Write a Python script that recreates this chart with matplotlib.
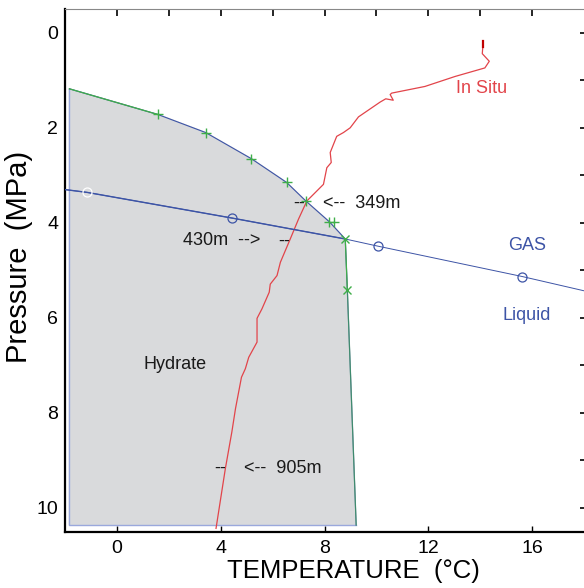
import matplotlib
matplotlib.use('Agg')
from matplotlib import pyplot as plt

plt.rcParams['font.family'] = ['Liberation Sans', 'DejaVu Sans']

# hydrate stability boundary (temperature in C, pressure in MPa)
hyd_T = [-1.83, 1.58, 3.42, 5.18, 6.54, 7.28, 8.19, 8.80, 8.88, 9.22]
hyd_P = [1.18, 1.72, 2.10, 2.65, 3.15, 3.54, 3.98, 4.34, 5.41, 10.36]
hyd_bottom = 10.36

# measured points on the boundary
plus_T = [1.58, 3.42, 5.18, 6.54, 7.28, 8.19, 8.35]
plus_P = [1.72, 2.10, 2.65, 3.15, 3.54, 3.98, 3.98]
cross_T = [8.80, 8.88]
cross_P = [4.34, 5.41]

# gas / liquid boundary
gas_T = [-2.0, -1.14, 4.44, 8.80, 10.05, 15.62, 18.0]
gas_P = [3.30, 3.36, 3.90, 4.34, 4.49, 5.13, 5.43]
circ_T = [4.44, 10.05, 15.62]
circ_P = [3.90, 4.49, 5.13]

# in situ temperature profile
situ_T = [14.10, 14.10, 14.08, 14.35, 14.18, 13.03, 11.87, 10.59, 10.53, 10.65, 10.36,
          10.14, 9.31, 8.99, 8.73, 8.47, 8.22, 8.26, 8.09, 7.96, 7.32, 7.00,
          6.68, 6.30, 6.17, 5.91, 5.87, 5.59, 5.40, 5.40, 5.08, 4.95, 4.80,
          4.57, 4.43, 4.18, 3.82]
situ_P = [0.18, 0.30, 0.44, 0.60, 0.74, 0.92, 1.13, 1.27, 1.30, 1.42, 1.39,
          1.46, 1.77, 2.00, 2.10, 2.18, 2.52, 2.73, 2.84, 3.19, 3.54, 3.92,
          4.34, 4.83, 5.11, 5.29, 5.46, 5.81, 6.01, 6.51, 6.83, 7.07, 7.25,
          7.91, 8.40, 9.17, 10.43]

x_ticks = [0, 4, 8, 12, 16]
y_ticks = [0, 2, 4, 6, 8, 10]

BLUE = '#3d54a6'
GREEN = '#3fae49'
RED = '#e2444a'
TXT = '#1a1a1a'

fig = plt.figure(figsize=(5.84, 5.88), dpi=100)
ax = fig.add_axes([65 / 584, 56.3 / 588, 519 / 584, 522.7 / 588])

# shaded hydrate field
fill_T = [hyd_T[0]] + hyd_T + [hyd_T[0]]
fill_P = [hyd_bottom] + hyd_P + [hyd_bottom]
ax.fill(fill_T, fill_P, color='#d9dadc', zorder=1)
ax.plot([hyd_T[0], hyd_T[0], hyd_T[-1]], [hyd_P[0], hyd_bottom, hyd_bottom],
        color='#9aa8dc', lw=1.0, zorder=2)

ax.plot(situ_T, situ_P, color=RED, lw=0.9, zorder=3)
ax.plot(situ_T[:2], situ_P[:2], color='#c00000', lw=1.6, zorder=3)

ax.plot(hyd_T, hyd_P, color=BLUE, lw=0.8, zorder=4)
ax.plot(hyd_T[:2], hyd_P[:2], color=GREEN, lw=0.9, zorder=4)
ax.plot(hyd_T[7:9], hyd_P[7:9], color=GREEN, lw=0.9, zorder=4)
ax.plot(hyd_T[8:], hyd_P[8:], color=GREEN, lw=0.9, alpha=0.6, zorder=4)

ax.plot(gas_T, gas_P, color=BLUE, lw=0.7, zorder=4)
ax.plot(gas_T[:4], gas_P[:4], color=BLUE, lw=1.0, zorder=4)
ax.plot(circ_T, circ_P, 'o', mfc='none', mec=BLUE, ms=6.5, mew=0.9, zorder=5)
ax.plot(gas_T[1], gas_P[1], 'o', mfc='none', mec='white', ms=6.5, mew=0.9, zorder=5)

ax.plot(plus_T, plus_P, '+', color=GREEN, ms=7, mew=1.0, zorder=5)
ax.plot(cross_T, cross_P, 'x', color=GREEN, ms=6, mew=1.0, zorder=5)

# labels
ax.text(14.04, 1.18, 'In Situ', color=RED, fontsize=13, ha='center', va='center')
ax.text(15.81, 4.48, 'GAS', color=BLUE, fontsize=13, ha='center', va='center')
ax.text(15.81, 5.95, 'Liquid', color=BLUE, fontsize=13, ha='center', va='center')
ax.text(2.25, 6.99, 'Hydrate', color=TXT, fontsize=13, ha='center', va='center')

ax.text(7.04, 3.59, '--', color=TXT, fontsize=13, ha='center', va='center')
ax.text(7.96, 3.59, '<--  349m', color=TXT, fontsize=13, ha='left', va='center')
ax.text(5.54, 4.38, '430m  -->', color=TXT, fontsize=13, ha='right', va='center')
ax.text(6.43, 4.38, '--', color=TXT, fontsize=13, ha='center', va='center')
ax.text(3.99, 9.17, '--', color=TXT, fontsize=13, ha='center', va='center')
ax.text(4.88, 9.17, '<--  905m', color=TXT, fontsize=13, ha='left', va='center')

ax.set_xlim(-2, 18)
ax.set_ylim(10.5, -0.5)
ax.set_xticks(x_ticks)
ax.set_yticks(y_ticks)
ax.tick_params(axis='x', direction='in', length=4, width=1, labelsize=14, pad=6)
ax.tick_params(axis='y', length=0, labelsize=14, pad=5)

ax.spines['right'].set_visible(False)
ax.spines['top'].set_color('#888888')
ax.spines['top'].set_linewidth(0.8)
ax.spines['left'].set_linewidth(1.6)
ax.spines['bottom'].set_linewidth(1.6)

top = ax.secondary_xaxis('top')
top.set_xticks(range(0, 18, 2))
top.tick_params(direction='in', length=5, width=1.2, labeltop=False)
top.spines['top'].set_visible(False)

right = ax.secondary_yaxis('right')
right.set_yticks(range(0, 11))
right.tick_params(direction='in', length=3, width=1.2, labelright=False)
right.spines['right'].set_visible(False)

ax.set_xlabel('TEMPERATURE  (°C)', fontsize=18.5)
ax.xaxis.set_label_coords(0.555, -0.052)
ax.set_ylabel('Pressure  (MPa)', fontsize=21)
ax.yaxis.set_label_coords(-0.062, 0.525)

fig.savefig('out.png', dpi=100)
